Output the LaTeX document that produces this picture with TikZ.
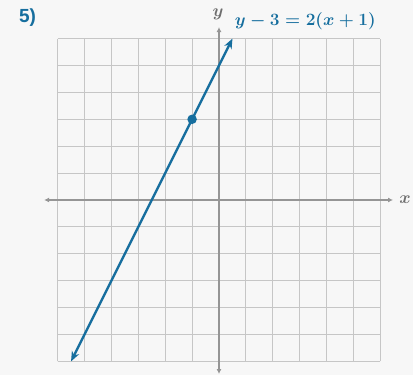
\documentclass[tikz,border=0pt]{standalone}
\usepackage{fontspec}
\usepackage{amsmath}
\newfontfamily\titlefont{Liberation Sans}
\usetikzlibrary{arrows.meta}
\definecolor{bgc}{HTML}{F7F7F7}
\definecolor{gridc}{HTML}{C6C6C6}
\definecolor{axisc}{HTML}{959595}
\definecolor{labc}{HTML}{6E6E6E}
\definecolor{bluec}{HTML}{166E9E}
\tikzset{
  gridline/.style={draw=gridc, line width=1.1pt},
  axisline/.style={draw=axisc, line width=1.6pt, {Latex[length=5pt,width=5pt]}-{Latex[length=5pt,width=5pt]}},
  graphline/.style={draw=bluec, line width=2.3pt, {Stealth[length=10pt,width=8pt]}-{Stealth[length=10pt,width=8pt]}},
  axislabel/.style={text=labc, font=\fontsize{17}{20}\selectfont\boldmath, inner sep=0pt},
  eqlabel/.style={text=bluec, font=\fontsize{16}{19}\selectfont\boldmath, inner sep=0pt, anchor=west},
  titlelabel/.style={text=bluec, font=\titlefont\bfseries\fontsize{19}{22}\selectfont, inner sep=0pt}
}
\begin{document}
\begin{tikzpicture}[x=1pt,y=1pt]
\fill[bgc] (0,0) rectangle (413,375);
\useasboundingbox (0,0) rectangle (413,375);
\node[titlelabel] (title) at (27.5,357) {5)};
\begin{scope}[shift={(219,175)}, x=26.9pt, y=26.9pt]
  \draw[gridline, step=1] (-6,-6) grid (6,6);
  \coordinate (xl) at (-6.5,0);
  \coordinate (xr) at (6.47,0);
  \coordinate (yb) at (0,-6.47);
  \coordinate (yt) at (0,6.43);
  \draw[axisline] (xl) -- (xr);
  \draw[axisline] (yb) -- (yt);
  \node[axislabel] (xlab) at (6.92,0) {$x$};
  \node[axislabel] (ylab) at (-0.04,6.9) {$y$};
  \coordinate (lb) at (-5.5,-6);
  \coordinate (lt) at (0.5,6);
  \draw[graphline] (lb) -- (lt);
  \node[circle, fill=bluec, minimum size=9.5pt, inner sep=0pt] (pt) at (-1,3) {};
  \node[eqlabel] (eq) at (0.58,6.64) {$y-3=2(x+1)$};
\end{scope}
\end{tikzpicture}
\end{document}
